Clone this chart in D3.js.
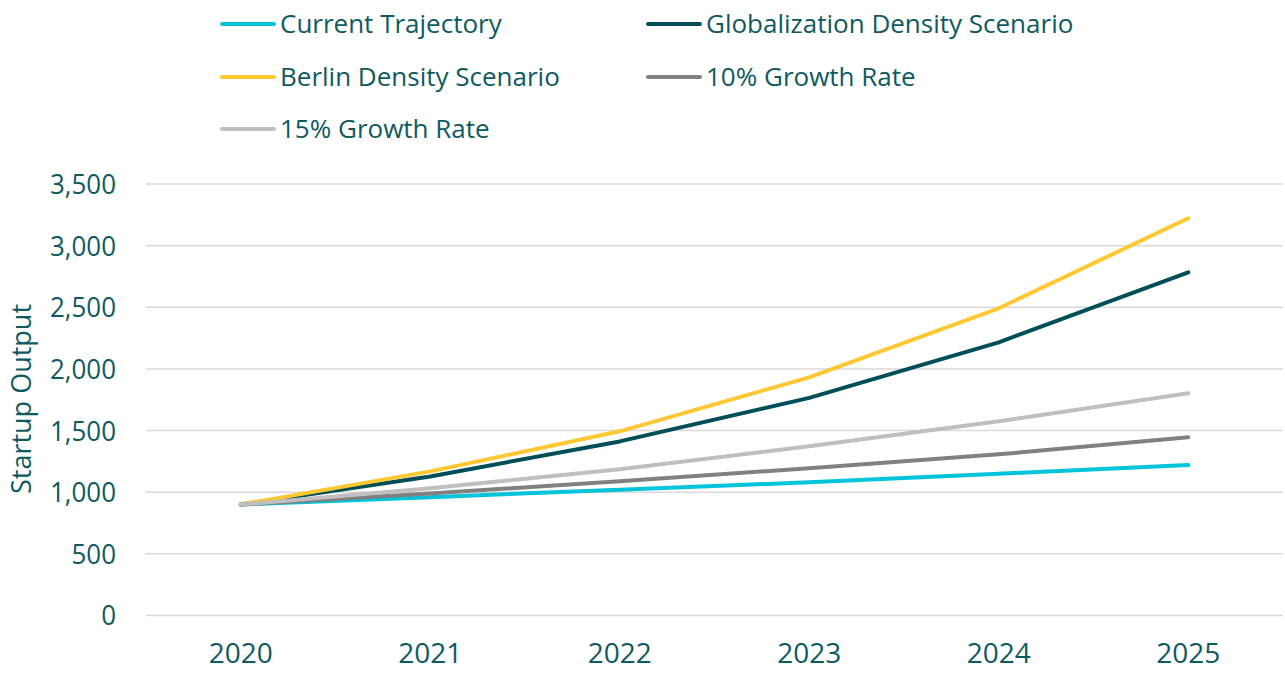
<!DOCTYPE html>
<html><head><meta charset="utf-8">
<script src="https://cdn.jsdelivr.net/npm/d3@7"></script>
<style>body{margin:0;background:#fff;} svg{display:block;font-family:"Open Sans",sans-serif;}</style>
</head><body><svg id="c" width="1285" height="673"></svg>
<script>
const years = ["2020","2021","2022","2023","2024","2025"];
const currentTrajectory = [900, 960, 1020, 1080, 1150, 1220];
const globalization = [900, 1128, 1412, 1765, 2216, 2784];
const berlin = [900, 1169, 1494, 1932, 2492, 3222];
const growth10 = [900, 990, 1089, 1195, 1307, 1445];
const growth15 = [900, 1033, 1186, 1372, 1575, 1802];
const yTicks = [0, 500, 1000, 1500, 2000, 2500, 3000, 3500];
const seriesNames = ["Current Trajectory","Globalization Density Scenario","Berlin Density Scenario","10% Growth Rate","15% Growth Rate"];
const seriesColors = ["#00c4d9","#004e57","#ffc832","#808080","#bfbfbf"];
const seriesValues = [currentTrajectory, globalization, berlin, growth10, growth15];

const svg = d3.select("#c");
const textColor = "#0e5a60";
const x = d3.scaleBand().domain(years).range([146, 1283]);
const y = d3.scaleLinear().domain([0, 3500]).range([615.5, 184]);

// gridlines
svg.append("g").selectAll("line").data(yTicks).join("line")
  .attr("x1", 146).attr("x2", 1283)
  .attr("y1", d => y(d)).attr("y2", d => y(d))
  .attr("stroke", "#d9d9d9").attr("stroke-width", 1.5);

// y axis
const yAxis = svg.append("g").attr("transform","translate(116,0)")
  .call(d3.axisLeft(y).tickValues(yTicks).tickSize(0).tickPadding(0).tickFormat(d3.format(",")));
yAxis.select(".domain").remove();
yAxis.selectAll("text").attr("font-size", 27).attr("fill", textColor).attr("font-family","Open Sans").attr("dy","0.35em")
  .attr("transform","scale(0.96,1)");

// x axis
const xAxis = svg.append("g").attr("transform","translate(0,635)")
  .call(d3.axisBottom(x).tickSize(0).tickPadding(0));
xAxis.select(".domain").remove();
xAxis.selectAll("text").attr("font-size", 28).attr("fill", textColor).attr("font-family","Open Sans").attr("dy","1em");

// y label
svg.append("text").attr("transform","translate(31,399) rotate(-90)")
  .attr("text-anchor","middle").attr("font-size",27).attr("fill",textColor)
  .text("Startup Output");

// lines
const line = d3.line().x((d,i) => x(years[i]) + x.bandwidth()/2).y(d => y(d));
svg.append("g").selectAll("path").data(seriesValues).join("path")
  .attr("d", line).attr("fill","none")
  .attr("stroke", (d,i) => seriesColors[i]).attr("stroke-width", 4)
  .attr("stroke-linecap","round").attr("stroke-linejoin","round");

// legend
const legPos = [[222,24],[648,24],[222,77],[648,77],[222,129]];
const leg = svg.append("g").selectAll("g").data(seriesNames).join("g")
  .attr("transform",(d,i)=>`translate(${legPos[i][0]},${legPos[i][1]})`);
leg.append("line").attr("x1",0).attr("x2",52).attr("y1",0).attr("y2",0)
  .attr("stroke",(d,i)=>seriesColors[i]).attr("stroke-width",4).attr("stroke-linecap","round");
leg.append("text").attr("x",58).attr("y",0).attr("dy","0.35em")
  .attr("font-size",26).attr("fill",textColor).text(d=>d);
</script></body></html>
